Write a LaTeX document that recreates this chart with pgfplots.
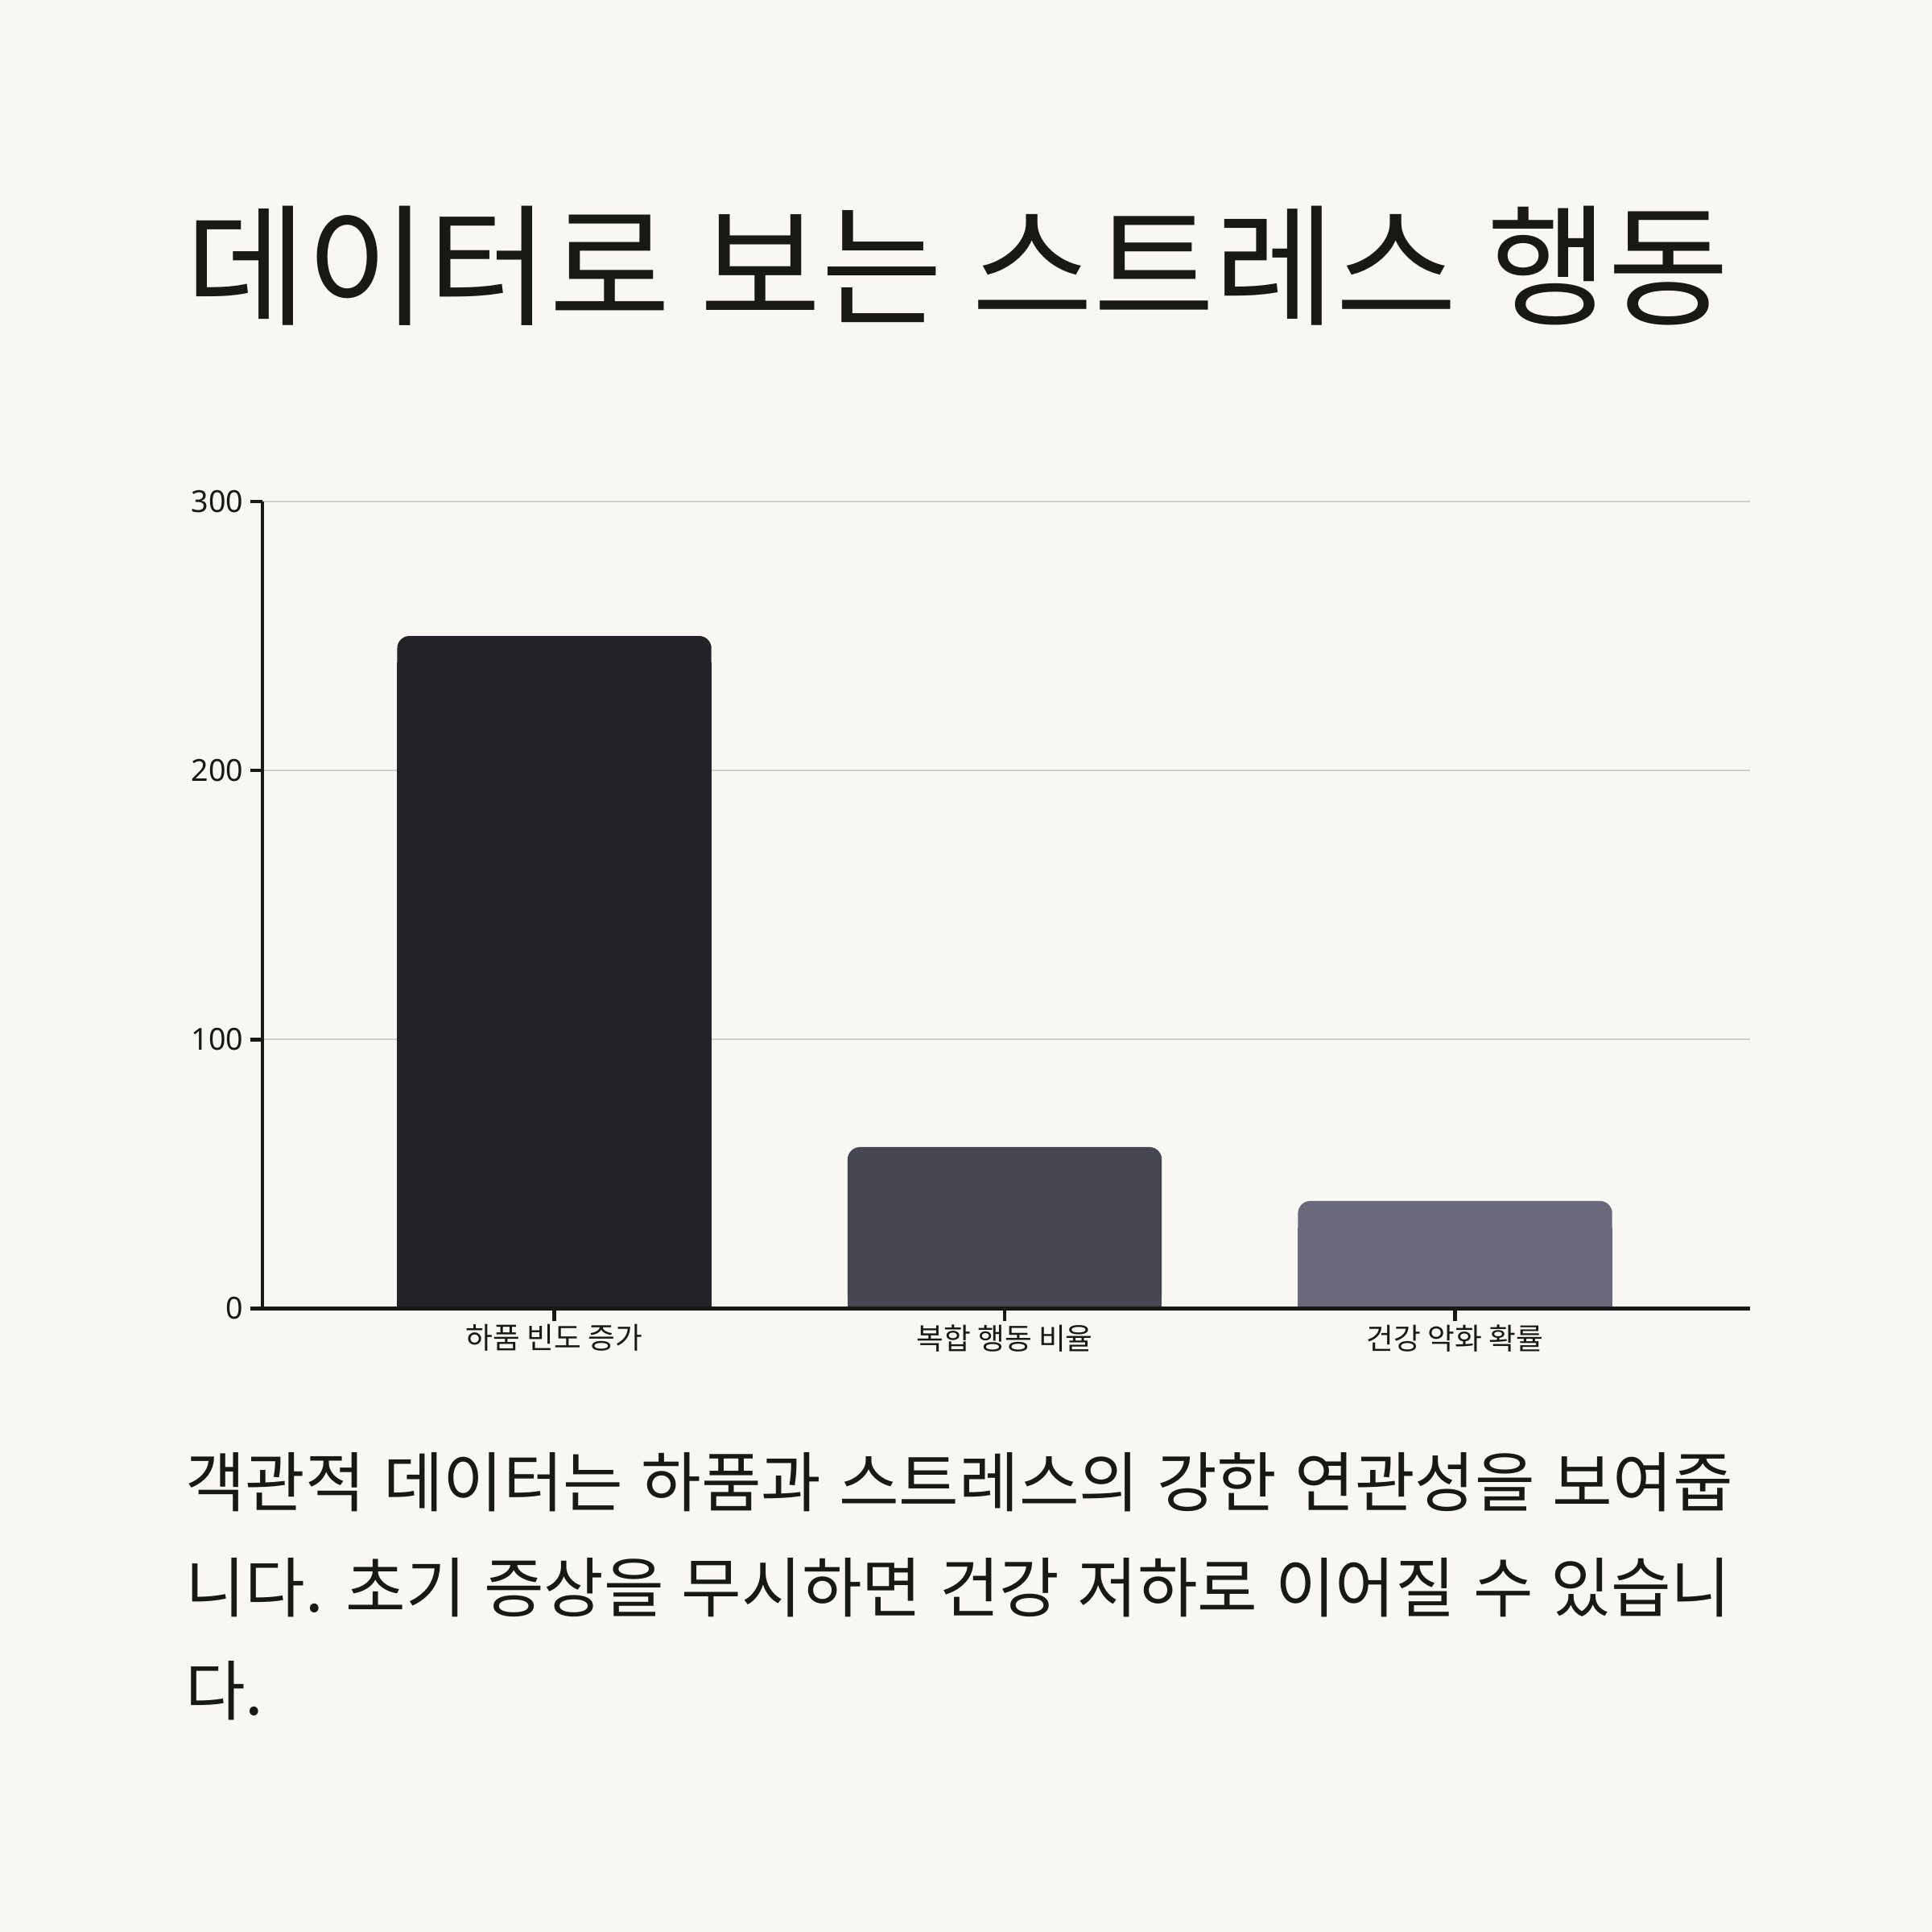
\documentclass[border=0pt]{standalone}
\usepackage{fontspec}
\setmainfont{Noto Sans CJK KR}
\newfontfamily\numfont{Noto Sans}
\usepackage{pgfplots}
\pgfplotsset{compat=1.18}
\definecolor{bg}{HTML}{F8F7F3}
\definecolor{ink}{HTML}{181814}
\definecolor{gridc}{HTML}{D0CEC8}
\definecolor{barA}{HTML}{232328}
\definecolor{barB}{HTML}{474754}
\definecolor{barC}{HTML}{6A697B}
\newcommand\wide{\spaceskip=0.27em\relax}
\begin{document}
\begin{tikzpicture}[x=1pt,y=1pt]
\fill[bg] (0,0) rectangle (784,784);
\node[anchor=base west, inner sep=0, font=\fontsize{53.5}{60}\selectfont, text=ink] at (75,656) {데이터로 보는 스트레스 행동};
\begin{axis}[
  at={(106.5pt,253pt)}, anchor=south west,
  scale only axis, width=603.5pt, height=327.5pt,
  xmin=-0.648, xmax=2.654, ymin=0, ymax=300,
  axis lines=left,
  axis line style={-, line width=1.6pt, ink},
  xtick={0,1,2},
  xticklabels={하품 빈도 증가, 복합 행동 비율, 건강 악화 확률},
  ytick={0,100,200,300},
  tick style={line width=1.5pt, ink},
  major tick length=5pt,
  tick align=outside,
  ymajorgrids,
  grid style={gridc, line width=0.6pt},
  xticklabel style={font=\fontsize{12}{14}\selectfont, text=ink, yshift=2pt},
  yticklabel style={font=\numfont\fontsize{12.3}{14}\selectfont, text=ink, inner sep=2.5pt},
  /pgf/number format/assume math mode=true,
  ybar, bar width=127.5pt, bar shift=0pt,
  clip=false,
]
\addplot[fill=barA, draw=none, rounded corners=5pt] coordinates {(0,250)};
\addplot[fill=barA, draw=none] coordinates {(0,240)};
\addplot[fill=barB, draw=none, rounded corners=5pt] coordinates {(1,60)};
\addplot[fill=barB, draw=none] coordinates {(1,50)};
\addplot[fill=barC, draw=none, rounded corners=5pt] coordinates {(2,40)};
\addplot[fill=barC, draw=none] coordinates {(2,30)};
\draw[ink, line width=1.6pt] (axis cs:-0.648,0) -- (axis cs:2.654,0);
\end{axis}
\begin{scope}[every node/.style={anchor=base west, inner sep=0, font=\fontsize{26.5}{30}\selectfont, text=ink}]
\node at (75,172.5) {\wide 객관적 데이터는 하품과 스트레스의 강한 연관성을 보여줍};
\node at (75,130) {\wide 니다. 초기 증상을 무시하면 건강 저하로 이어질 수 있습니};
\node at (75,88) {\wide 다.};
\end{scope}
\end{tikzpicture}
\end{document}
